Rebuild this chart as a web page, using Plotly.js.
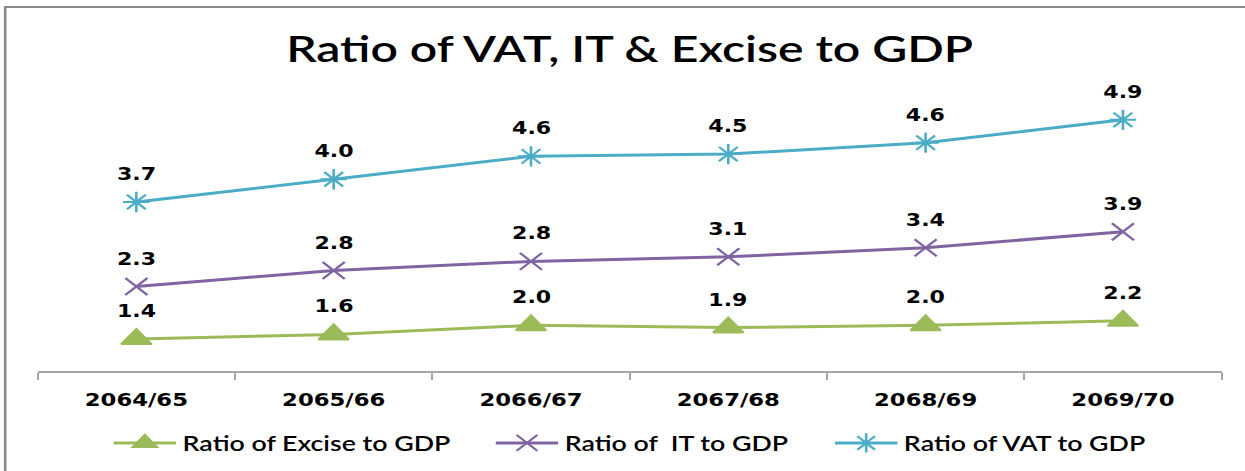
<!DOCTYPE html>
<html>
<head>
<meta charset="utf-8">
<script src="https://cdn.plot.ly/plotly-3.0.1.min.js"></script>
<style>
  html, body { margin:0; padding:0; background:#fff; overflow:hidden; }
  #wrap { position:absolute; left:0; top:0; width:958px; height:471px; transform:scaleX(1.29958); transform-origin:0 0; }
  #chart { position:absolute; left:0; top:0; width:958px; height:471px; }
  #frame { position:absolute; left:3px; top:6px; width:1000px; height:500px; border:2px solid #8a8a8a; pointer-events:none; }
</style>
</head>
<body>
<div id="wrap">
  <div id="chart"></div>
  <div id="frame"></div>
</div>
<script>
// ---- data ----
const categories = ['2064/65', '2065/66', '2066/67', '2067/68', '2068/69', '2069/70'];
const exciseRatio = [1.4, 1.6, 2.0, 1.9, 2.0, 2.2];
const itRatio     = [2.3, 2.8, 2.8, 3.1, 3.4, 3.9];
const vatRatio    = [3.7, 4.0, 4.6, 4.5, 4.6, 4.9];
const seriesNames = ['Ratio of Excise to GDP', 'Ratio of\u00a0 IT to GDP', 'Ratio of VAT to GDP'];
const chartTitle  = 'Ratio of VAT, IT & Excise to GDP';

// ---- styling ----
const W = 958, H = 471;
const colors  = ['#9BBB59', '#8064A2', '#4BACC6'];
const symbols = ['triangle-up', 'x-thin', 'asterisk'];
const msizes  = [20, 17, 17];
const series  = [exciseRatio, itRatio, vatRatio];
const legendIds = ['legend', 'legend2', 'legend3'];
const legendX = [82.5, 376.5, 637.5];   // px, unscaled

const traces = series.map((vals, i) => ({
  type: 'scatter',
  mode: 'lines+markers',
  stackgroup: 'one',
  fill: 'none',
  name: seriesNames[i],
  x: categories,
  y: vals,
  legend: legendIds[i],
  line: { color: colors[i], width: 3 },
  marker: {
    symbol: symbols[i], size: msizes[i], color: colors[i],
    line: { color: colors[i], width: 2 }
  },
  hoverinfo: 'skip'
}));

// data labels placed on the stacked positions
const annotations = [];
const cum = categories.map(() => 0);
series.forEach((vals) => {
  vals.forEach((v, j) => {
    cum[j] += v;
    annotations.push({
      x: categories[j], y: cum[j], xref: 'x', yref: 'y',
      text: v.toFixed(1), showarrow: false,
      yanchor: 'bottom', yshift: 16,
      font: { family: 'DejaVu Sans, Verdana, sans-serif', size: 17, weight: 'bold', color: '#000' }
    });
  });
});

const legendBase = {
  orientation: 'h', xref: 'container', yref: 'container',
  xanchor: 'left', yanchor: 'middle', y: 1 - 443 / H,
  itemwidth: 48,
  bgcolor: 'rgba(0,0,0,0)', borderwidth: 0,
  font: { family: 'Lato, Liberation Sans, Arial, sans-serif', size: 20.6, weight: 600, color: '#000' }
};

const layout = {
  width: W, height: H, autosize: false,
  paper_bgcolor: 'rgba(0,0,0,0)', plot_bgcolor: 'rgba(0,0,0,0)',
  margin: { l: 29, r: 18, t: 97, b: 100, pad: 0 },
  title: {
    text: chartTitle, x: 0.5, xref: 'paper', xanchor: 'center',
    y: 1 - 36 / H, yref: 'container', yanchor: 'top',
    font: { family: 'Lato, Liberation Sans, Arial, sans-serif', size: 37, weight: 600, color: '#000' }
  },
  xaxis: {
    type: 'category', range: [-0.5, 5.5], fixedrange: true,
    showgrid: false, zeroline: false,
    showline: true, linecolor: '#a6a6a6', linewidth: 1.5,
    ticks: 'outside', tickson: 'boundaries', ticklen: 7, tickcolor: '#a6a6a6', tickwidth: 1.5,
    ticklabelstandoff: 13,
    tickfont: { family: 'DejaVu Sans, Verdana, sans-serif', size: 17.5, weight: 'bold', color: '#000' }
  },
  yaxis: {
    range: [0, 12], visible: false, showgrid: false, zeroline: false, fixedrange: true
  },
  showlegend: true,
  legend:  Object.assign({}, legendBase, { x: legendX[0] / W }),
  legend2: Object.assign({}, legendBase, { x: legendX[1] / W }),
  legend3: Object.assign({}, legendBase, { x: legendX[2] / W }),
  annotations: annotations
};

Plotly.newPlot('chart', traces, layout, { displayModeBar: false, staticPlot: true });
</script>
</body>
</html>
